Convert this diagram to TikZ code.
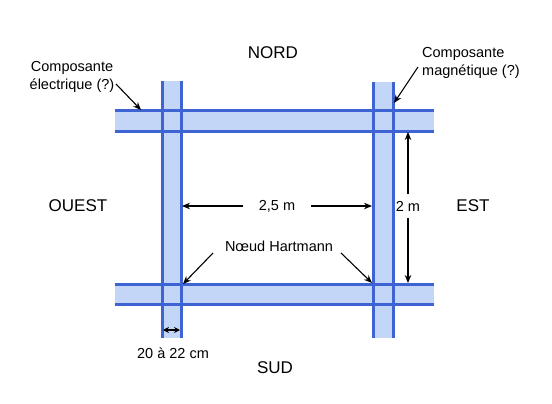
\documentclass[tikz,border=0pt]{standalone}
\usepackage{fontspec}
\setmainfont{Liberation Sans}
\usetikzlibrary{arrows.meta}
\definecolor{bandfill}{RGB}{196,214,248}
\definecolor{bandline}{RGB}{62,100,212}
\begin{document}
\begin{tikzpicture}[x=1pt,y=-1pt,
  lab/.style={font=\fontsize{14.5}{17.5}\selectfont, inner sep=0pt},
  dir/.style={font=\fontsize{17}{19}\selectfont, inner sep=0pt},
  arr/.style={-{Stealth[length=8pt,width=6.5pt]}, line width=1.1pt, black},
  dblarr/.style={{Stealth[length=6pt,width=6pt]}-{Stealth[length=6pt,width=6pt]}, line width=1.1pt, black},
  bandedge/.style={draw=bandline, line width=3pt}]
\useasboundingbox (0,0) rectangle (552,404);
% band fills
\fill[bandfill] (115,111) rectangle (434,131);
\fill[bandfill] (115,284) rectangle (434,304);
\fill[bandfill] (162,81) rectangle (181,338);
\fill[bandfill] (373,82) rectangle (393,338);
% band edges
\draw[bandedge] (115,111) -- (434,111);
\draw[bandedge] (115,131) -- (434,131);
\draw[bandedge] (115,284) -- (434,284);
\draw[bandedge] (115,304) -- (434,304);
\draw[bandedge] (162,81) -- (162,338);
\draw[bandedge] (181,81) -- (181,338);
\draw[bandedge] (373,82) -- (373,338);
\draw[bandedge] (393,82) -- (393,338);
% directions
\node[dir] (nord) at (273,53) {NORD};
\node[dir] (sud) at (275,368) {SUD};
\node[dir] (ouest) at (78,206) {OUEST};
\node[dir] (est) at (473,206) {EST};
% composante electrique
\node[lab, align=center] (elec) at (72,77) {Composante\\électrique (?)};
\coordinate (elecS) at (116,84);
\coordinate (elecT) at (141,110);
\draw[arr] (elecS) -- (elecT);
% composante magnetique
\node[lab, align=left, anchor=west] (magn) at (422,63) {Composante\\magnétique (?)};
\coordinate (magnS) at (418,67);
\coordinate (magnT) at (394,103);
\draw[arr] (magnS) -- (magnT);
% 2,5 m
\node[lab, inner xsep=16pt] (d25) at (277,206) {2,5 m};
\coordinate (d25L) at (182,206);
\coordinate (d25R) at (372,206);
\draw[arr] (d25.west) -- (d25L);
\draw[arr] (d25.east) -- (d25R);
% 2 m
\node[lab, inner ysep=7pt, inner xsep=0pt] (d2) at (408,206) {2 m};
\coordinate (d2T) at (408,132);
\coordinate (d2B) at (408,283);
\draw[arr] (d2.north) -- (d2T);
\draw[arr] (d2.south) -- (d2B);
% Noeud Hartmann
\node[lab] (hart) at (279,246) {Nœud Hartmann};
\coordinate (hartLS) at (213,253);
\coordinate (hartLT) at (183,284);
\coordinate (hartRS) at (341,253);
\coordinate (hartRT) at (372,283);
\draw[arr] (hartLS) -- (hartLT);
\draw[arr] (hartRS) -- (hartRT);
% width
\node[lab] (larg) at (173,353) {20 à 22 cm};
\coordinate (largL) at (163,330);
\coordinate (largR) at (180,330);
\draw[dblarr] (largL) -- (largR);
\end{tikzpicture}
\end{document}
